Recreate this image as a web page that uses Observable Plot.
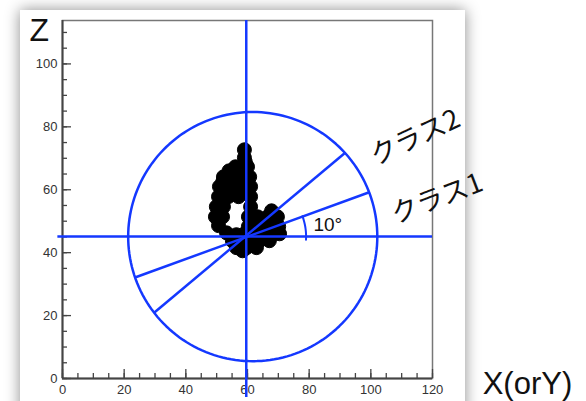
<!DOCTYPE html>
<html>
<head>
<meta charset="utf-8">
<script src="https://cdn.jsdelivr.net/npm/d3@7"></script>
<script src="https://cdn.jsdelivr.net/npm/@observablehq/plot@0.6"></script>
<style>
  html, body { margin: 0; padding: 0; background: #ffffff; width: 586px; height: 401px; overflow: hidden; }
  #panel { position: absolute; left: 20px; top: 10px; width: 445px; height: 420px; background: #ffffff;
           box-shadow: 0 0 14px rgba(0,0,0,0.45); }
  #chart { position: absolute; left: 0; top: 0; }
</style>
</head>
<body>
<div id="panel"></div>
<div id="chart"></div>
<script>
// ---- data ----
const xMajorTicks = [0, 20, 40, 60, 80, 100, 120];
const xMinorTicks = [0,5,10,15,20,25,30,35,40,45,50,55,60,65,70,75,80,85,90,95,100,105,110,115,120];
const zMajorTicks = [0, 20, 40, 60, 80, 100];
const zMinorTicks = [0,5,10,15,20,25,30,35,40,45,50,55,60,65,70,75,80,85,90,95,100,105,110];

// scatter blob (x, z)
const blobX = [59.0,59.0,56.1,60.0,52.2,55.5,58.7,60.7,50.9,54.2,57.4,61.0,50.6,53.8,57.1,61.0,
               49.9,52.2,61.0,67.8,49.6,51.9,60.3,63.3,66.5,69.7,50.6,53.2,60.3,63.6,66.8,70.1,
               56.4,59.0,62.0,65.2,68.4,70.4,55.1,57.4,60.7,63.9,67.1,56.4,59.7,62.9,58.4,
               59.3,54.0,52.0,59.7,58.5,55.8];
const blobZ = [72.7,70.2,67.3,67.3,64.1,64.1,64.1,64.1,61.0,61.0,61.0,61.0,57.8,57.8,57.8,57.8,
               54.6,54.6,54.6,53.3,51.4,51.4,51.4,51.4,51.4,51.4,48.6,46.3,48.3,48.3,48.3,48.3,
               45.7,46.0,46.0,46.0,46.0,46.0,43.8,43.8,43.8,43.8,43.8,41.6,41.6,41.6,40.6,
               68.8,66.0,62.6,59.4,59.4,59.4];

// reference geometry
const centerX = 59.6, centerZ = 45.1;
const circleCX = 61.7, circleCZ = 45.1, circleRX = 40.4, circleRZ = 39.6;
const rayX1 = [23.5, 29.7], rayZ1 = [32.1, 20.9];
const rayX2 = [99.5, 91.5], rayZ2 = [59.2, 71.6];
const rayNames = ["クラス1", "クラス2"];
const arcRX = 19.4, arcRZ = 19.0, arcFrom = -3, arcTo = 20;
const angleLabel = "10°";

// ---- build tables ----
const blob = blobX.map((x, i) => ({x, z: blobZ[i]}));
const circle = d3.range(0, 361, 2).map(a => ({
  x: circleCX + circleRX * Math.cos(a * Math.PI / 180),
  z: circleCZ + circleRZ * Math.sin(a * Math.PI / 180)
}));
const arc = d3.range(arcFrom, arcTo + 0.5, 1).map(a => ({
  x: centerX + arcRX * Math.cos(a * Math.PI / 180),
  z: centerZ + arcRZ * Math.sin(a * Math.PI / 180)
}));
const rays = rayX1.map((x1, i) => ({x1, z1: rayZ1[i], x2: rayX2[i], z2: rayZ2[i], name: rayNames[i]}));

const blue = "#1438ff";
const axisColor = "#444";
const font = "'Liberation Sans', Arial, Helvetica, sans-serif";

const W = 586, H = 401, mL = 62, mR = 154, mT = 20, mB = 23;
const fw = W - mL - mR, fh = H - mT - mB;

const chart = Plot.plot({
  width: W, height: H,
  marginLeft: mL, marginRight: mR, marginTop: mT, marginBottom: mB,
  style: {background: "transparent", fontFamily: font, overflow: "visible"},
  x: {domain: [0, 120], axis: null},
  y: {domain: [0, 113.8], axis: null},
  marks: [
    // frame
    Plot.frame({stroke: "#777", strokeWidth: 1.5}),
    Plot.ruleX([0], {stroke: axisColor, strokeWidth: 2}),
    Plot.ruleY([0], {stroke: axisColor, strokeWidth: 2}),
    // ticks (inward)
    Plot.ruleX(xMinorTicks, {x: d => d, insetTop: fh - 5, stroke: axisColor, strokeWidth: 1.3}),
    Plot.ruleX(xMajorTicks, {x: d => d, insetTop: fh - 9, stroke: axisColor, strokeWidth: 1.3}),
    Plot.ruleY(zMinorTicks, {y: d => d, insetRight: fw - 5, stroke: axisColor, strokeWidth: 1.3}),
    Plot.ruleY(zMajorTicks, {y: d => d, insetRight: fw - 9, stroke: axisColor, strokeWidth: 1.3}),
    // tick labels
    Plot.text(xMajorTicks, {x: d => d, y: () => 0, dy: 11, text: d => String(d), fontSize: 13, fill: "#333"}),
    Plot.text(zMajorTicks, {x: () => 0, y: d => d, dx: -5, text: d => String(d), textAnchor: "end", fontSize: 13, fill: "#333"}),
    // scatter blob
    Plot.dot(blob, {x: "x", y: "z", r: 7, fill: "#000", stroke: "#000", strokeWidth: 1}),
    // guide lines
    Plot.ruleY([centerZ], {x1: -1.5, x2: 120, stroke: blue, strokeWidth: 2.5}),
    Plot.ruleX([centerX], {y1: -6, y2: 113.8, stroke: blue, strokeWidth: 2.5}),
    Plot.line(circle, {x: "x", y: "z", stroke: blue, strokeWidth: 2.5, curve: "linear"}),
    Plot.link(rays, {x1: "x1", y1: "z1", x2: "x2", y2: "z2", stroke: blue, strokeWidth: 2.5}),
    Plot.line(arc, {x: "x", y: "z", stroke: blue, strokeWidth: 2, curve: "linear"}),
    // annotations
    Plot.text([angleLabel], {x: () => 81.4, y: () => 47.0, text: d => d, textAnchor: "start", lineAnchor: "bottom", fontSize: 19, fill: "#111"}),
    Plot.text([rays[1].name], {x: () => 114.4, y: () => 76.5, text: d => d, rotate: -25, fontSize: 27, fill: "#111",
      fontFamily: "'Noto Sans CJK JP', sans-serif"}),
    Plot.text([rays[0].name], {x: () => 121.5, y: () => 57.1, text: d => d, rotate: -21, fontSize: 27, fill: "#111",
      fontFamily: "'Noto Sans CJK JP', sans-serif"}),
    Plot.text(["Z"], {x: () => -7.5, y: () => 110.6, text: d => d, fontSize: 32, fill: "#111"}),
    Plot.text(["X(orY)"], {x: () => 150.8, y: () => -1.8, text: d => d, fontSize: 31, fill: "#111"})
  ]
});
document.getElementById("chart").appendChild(chart);
</script>
</body>
</html>
